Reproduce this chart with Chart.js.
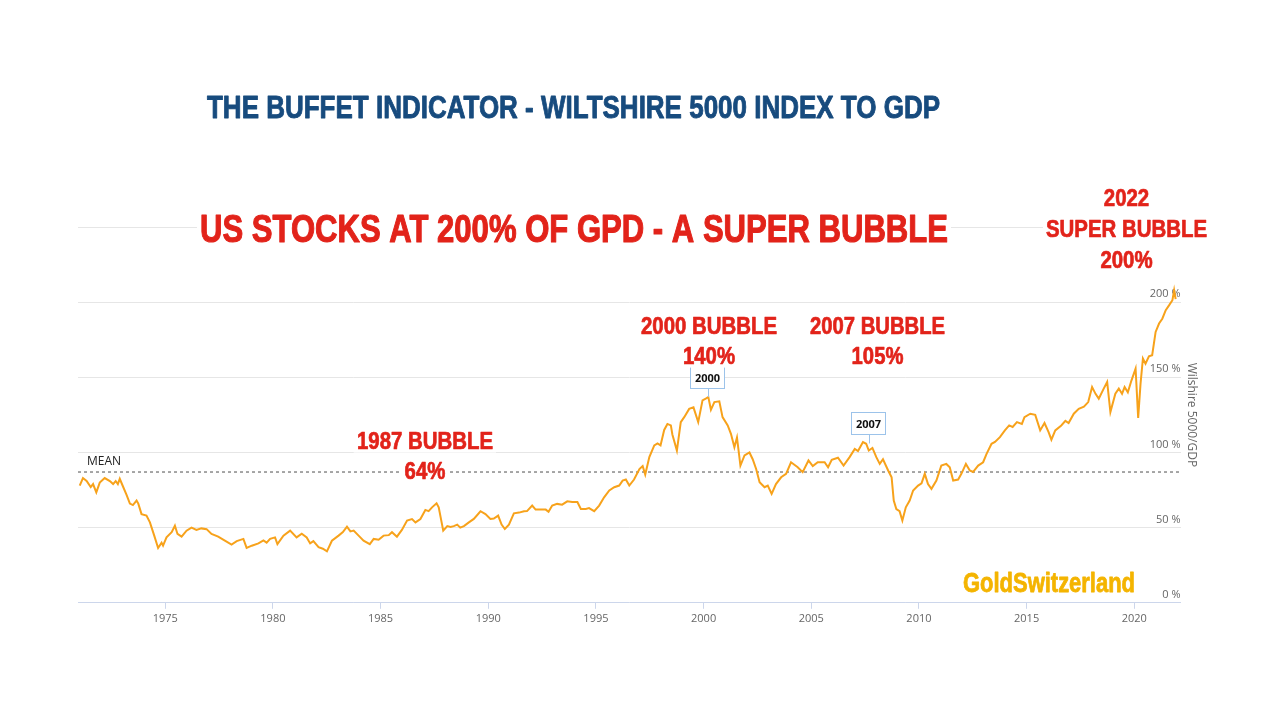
<!DOCTYPE html>
<html>
<head>
<meta charset="utf-8">
<title>The Buffett Indicator</title>
<script src="https://cdn.jsdelivr.net/npm/chart.js@4.4.0/dist/chart.umd.min.js"></script>
<style>
  html, body { margin: 0; padding: 0; background: #fff; }
  #wrap { width: 1280px; height: 720px; position: relative; }
</style>
</head>
<body>
<div id="wrap"><canvas id="chartBuffett"></canvas></div>
<script>
// Wilshire 5000 / GDP (%)
const years = [
  1971.03, 1971.18, 1971.35, 1971.54, 1971.65, 1971.8, 1971.96, 1972.19, 1972.43, 1972.58, 1972.7, 1972.8, 1972.89,
  1973.0, 1973.2, 1973.36, 1973.5, 1973.67, 1973.75, 1973.9, 1974.13, 1974.29, 1974.49, 1974.67, 1974.83, 1974.9,
  1975.06, 1975.3, 1975.45, 1975.57, 1975.76, 1975.99, 1976.22, 1976.45, 1976.68, 1976.92, 1977.15, 1977.46, 1977.77,
  1978.08, 1978.32, 1978.63, 1978.78, 1979.02, 1979.33, 1979.56, 1979.71, 1979.87, 1980.1, 1980.21, 1980.49, 1980.8,
  1981.1, 1981.34, 1981.57, 1981.73, 1981.88, 1982.12, 1982.32, 1982.51, 1982.74, 1983.05, 1983.25, 1983.44, 1983.6,
  1983.75, 1983.98, 1984.21, 1984.5, 1984.68, 1984.91, 1985.14, 1985.38, 1985.53, 1985.76, 1985.99, 1986.23, 1986.46,
  1986.62, 1986.85, 1987.08, 1987.23, 1987.39, 1987.6, 1987.7, 1987.91, 1988.1, 1988.25, 1988.4, 1988.56, 1988.7,
  1988.87, 1989.1, 1989.33, 1989.64, 1989.87, 1990.1, 1990.26, 1990.46, 1990.62, 1990.77, 1990.96, 1991.19, 1991.43,
  1991.66, 1991.8, 1992.04, 1992.2, 1992.43, 1992.67, 1992.8, 1992.97, 1993.2, 1993.43, 1993.67, 1993.9, 1994.14,
  1994.3, 1994.53, 1994.68, 1994.92, 1995.15, 1995.38, 1995.62, 1995.85, 1996.08, 1996.24, 1996.39, 1996.55, 1996.77,
  1997.02, 1997.17, 1997.29, 1997.48, 1997.71, 1997.86, 1998.0, 1998.17, 1998.32, 1998.48, 1998.55, 1998.76, 1998.94,
  1999.1, 1999.33, 1999.53, 1999.75, 1999.95, 2000.1, 2000.22, 2000.34, 2000.5, 2000.73, 2000.88, 2001.12, 2001.27,
  2001.43, 2001.55, 2001.71, 2001.9, 2002.13, 2002.28, 2002.44, 2002.6, 2002.83, 2002.98, 2003.16, 2003.36, 2003.6,
  2003.83, 2004.06, 2004.37, 2004.6, 2004.87, 2005.07, 2005.3, 2005.62, 2005.78, 2005.95, 2006.24, 2006.5, 2006.78,
  2007.02, 2007.17, 2007.4, 2007.55, 2007.67, 2007.84, 2008.02, 2008.18, 2008.33, 2008.57, 2008.73, 2008.83, 2008.95,
  2009.1, 2009.23, 2009.39, 2009.57, 2009.73, 2009.96, 2010.12, 2010.27, 2010.42, 2010.58, 2010.81, 2011.04, 2011.27,
  2011.43, 2011.59, 2011.82, 2011.97, 2012.18, 2012.36, 2012.51, 2012.75, 2012.98, 2013.14, 2013.37, 2013.53, 2013.76,
  2013.99, 2014.19, 2014.35, 2014.55, 2014.78, 2014.9, 2015.17, 2015.4, 2015.63, 2015.83, 2016.02, 2016.15, 2016.33,
  2016.61, 2016.8, 2016.95, 2017.19, 2017.42, 2017.66, 2017.86, 2018.04, 2018.2, 2018.35, 2018.58, 2018.74, 2018.89,
  2019.12, 2019.28, 2019.43, 2019.55, 2019.7, 2019.87, 2020.06, 2020.18, 2020.29, 2020.4, 2020.52, 2020.68, 2020.83,
  2020.99, 2021.15, 2021.3, 2021.46, 2021.62, 2021.77, 2021.85, 2021.92
];
const ratio = [
  78, 83, 81, 77, 79, 73.5, 80, 83, 81, 79, 81, 79, 82.5,
  78.7, 72, 66, 65, 68, 66, 59, 58, 53.5, 44.7, 36.5, 40, 38,
  43.5, 47, 51.3, 45.8, 44, 48, 50, 48.5, 49.5, 49, 45.8, 44, 41.3,
  38.7, 41, 42.5, 36.5, 38, 39.5, 41.5, 40, 42.5, 43.5, 39, 44.7, 48,
  43.5, 46, 43.5, 39.5, 41, 37, 36, 34.2, 41.3, 44.7, 47, 50.7, 47.5,
  48, 44.7, 41.3, 39, 42.5, 42, 44.7, 45, 47, 44, 48.5, 54.7, 55.7,
  53.5, 55.7, 61.8, 61, 63.5, 66.2, 63.5, 48, 51, 50.5, 51, 52, 50,
  51, 53.5, 55.8, 60.9, 59, 55.8, 56, 58, 52, 49.1, 52, 59.5, 60,
  60.9, 61, 64.7, 62, 62, 62, 60.5, 64.7, 65.8, 65.3, 67.5, 67, 67,
  62.4, 62.4, 63, 61, 64.7, 70.2, 74.7, 76.9, 78, 81.3, 82, 78, 82,
  89, 91, 85.3, 96.9, 104.7, 106, 104.7, 115, 119, 118, 112, 101.3, 120.2,
  123.5, 129, 130, 120.2, 134.7, 135.8, 136.9, 128.4, 133.5, 134, 123.5, 118, 112.4,
  103.5, 110, 91.3, 98, 100, 95.5, 89, 80.2, 76.9, 78, 72.5, 79, 83.5,
  85.8, 93.5, 90.2, 86.9, 94.7, 90.9, 93.5, 93.5, 90.2, 95.1, 96.5, 91.3, 96.9,
  102.4, 101, 106.9, 105.8, 101.3, 103, 96.9, 92.4, 95.5, 88, 83.5, 68, 62.4,
  61, 54.7, 63.5, 68, 74.7, 78, 79.5, 85.8, 79, 75.8, 81.3, 91.3, 92.4,
  90.2, 81.3, 82, 85.8, 92.4, 88, 87, 91.3, 93.5, 99.1, 105.8, 107, 110.2,
  114.7, 118, 117, 120.2, 119, 123.5, 125.8, 125, 114.7, 119.6, 113.5, 108.5, 114.7,
  118, 121, 119.6, 125.8, 129, 130.5, 133.5, 143.5, 139, 135.8, 142.5, 146.9, 126.9,
  139.1, 142.5, 139, 143.5, 140, 148, 155.8, 123, 145.8, 162.5, 159, 164, 164.7,
  180.2, 185.8, 189, 194.7, 198, 201.3, 208, 202
];
const meanValue = 87;

const xMin = 1970.95;
const xMax = 2022.15;
const xTickYears = [1975, 1980, 1985, 1990, 1995, 2000, 2005, 2010, 2015, 2020];
const yMax = 250;
const yTickValues = [0, 50, 100, 150, 200, 250];

const flagLabels = ['2000', '2007'];
const flagYears = [2000.22, 2007.7];
const flagValues = [136.9, 106];

// Blocos de texto (posição em px do canvas)
const blocos = [
  { lines: ['THE BUFFET INDICATOR - WILTSHIRE 5000 INDEX TO GDP'], cx: 573.5, cy: 107, gap: 0, size: 31, width: 733, color: '#174b7e', stroke: 0.9 },
  { lines: ['US STOCKS AT 200% OF GPD - A SUPER BUBBLE'], cx: 574, cy: 228, gap: 0, size: 39, width: 748, color: '#e2231a', bg: true, stroke: 1.1 },
  { lines: ['2022', 'SUPER BUBBLE', '200%'], cx: 1126.5, cy: 197, gap: 31, size: 24, width: 161, color: '#e2231a', bg: true, stroke: 0.7 },
  { lines: ['2000 BUBBLE', '140%'], cx: 709, cy: 325, gap: 30, size: 24, width: 136, color: '#e2231a', bg: true, stroke: 0.7 },
  { lines: ['2007 BUBBLE', '105%'], cx: 877.5, cy: 325, gap: 30, size: 24, width: 135, color: '#e2231a', bg: true, stroke: 0.7 },
  { lines: ['1987 BUBBLE', '64%'], cx: 425, cy: 440, gap: 30, size: 24, width: 136, color: '#e2231a', bg: true, stroke: 0.7 },
  { lines: ['GoldSwitzerland'], cx: 1049, cy: 582, gap: 0, size: 27, width: 172, color: '#f4b400', stroke: 0.8 }
];

function drawBlock(ctx, b) {
  ctx.save();
  ctx.font = 'bold ' + b.size + 'px "Liberation Sans", Arial, sans-serif';
  const widest = Math.max(...b.lines.map(t => ctx.measureText(t).width));
  const sx = b.width / widest;
  const cap = b.size * 0.716;
  b.lines.forEach((t, i) => {
    const w = ctx.measureText(t).width * sx;
    const cy = b.cy + i * b.gap;
    if (b.bg) {
      ctx.fillStyle = '#fff';
      ctx.fillRect(b.cx - w / 2 - 3, cy - cap / 2 - 4, w + 6, cap + 8);
    }
    ctx.save();
    ctx.translate(b.cx, cy + cap / 2);
    ctx.scale(sx, 1);
    ctx.fillStyle = b.color;
    ctx.strokeStyle = b.color;
    ctx.lineWidth = b.stroke || 0;
    ctx.lineJoin = 'round';
    ctx.textAlign = 'center';
    ctx.textBaseline = 'alphabetic';
    ctx.fillText(t, 0, 0);
    if (b.stroke) ctx.strokeText(t, 0, 0);
    ctx.restore();
  });
  ctx.restore();
}

const textosPlugin = {
  id: 'textos',
  afterDraw(chart) {
    const ctx = chart.ctx;
    const xs = chart.scales.x;
    const ys = chart.scales.y;

    // rótulo MEAN
    ctx.save();
    ctx.font = '12px "Open Sans", sans-serif';
    ctx.fillStyle = '#222';
    ctx.textAlign = 'left';
    ctx.textBaseline = 'middle';
    ctx.fillText('MEAN', chart.chartArea.left + 9, ys.getPixelForValue(meanValue) - 10);
    ctx.restore();

    // bandeiras 2000 / 2007
    flagLabels.forEach((lab, i) => {
      const px = xs.getPixelForValue(flagYears[i]);
      const py = ys.getPixelForValue(flagValues[i]);
      const w = 34, h = 22;
      const bx = Math.round(px - w / 2 - 1) + 0.5;
      const by = Math.round(py - 9 - h) + 0.5;
      ctx.save();
      ctx.strokeStyle = '#9cc3ea';
      ctx.lineWidth = 1;
      ctx.beginPath();
      ctx.moveTo(Math.round(px) + 0.5, by + h);
      ctx.lineTo(Math.round(px) + 0.5, py);
      ctx.stroke();
      ctx.fillStyle = '#fff';
      ctx.fillRect(bx, by, w, h);
      ctx.strokeRect(bx, by, w, h);
      ctx.font = 'bold 11px "Open Sans", sans-serif';
      ctx.fillStyle = '#111';
      ctx.textAlign = 'center';
      ctx.textBaseline = 'middle';
      ctx.fillText(lab, bx + w / 2, by + h / 2 + 1);
      ctx.restore();
    });

    blocos.forEach(b => drawBlock(ctx, b));
  }
};

const ctx = document.getElementById('chartBuffett').getContext('2d');

new Chart(ctx, {
  type: 'line',
  data: {
    datasets: [
      {
        label: 'Wilshire 5000/GDP',
        data: years.map((x, i) => ({ x: x, y: ratio[i] })),
        borderColor: '#f7a21b',
        borderWidth: 2,
        pointRadius: 0,
        tension: 0,
        fill: false
      },
      {
        label: 'Mean',
        data: [{ x: xMin, y: meanValue }, { x: xMax, y: meanValue }],
        borderColor: '#8a8a8a',
        borderWidth: 1.5,
        borderDash: [3, 3],
        pointRadius: 0,
        fill: false
      }
    ]
  },
  options: {
    responsive: true,
    maintainAspectRatio: false,
    animation: false,
    layout: { padding: { top: 227, left: 78, right: 77, bottom: 92 } },
    plugins: {
      legend: { display: false },
      tooltip: { enabled: false }
    },
    scales: {
      x: {
        type: 'linear',
        min: xMin,
        max: xMax,
        afterBuildTicks: axis => { axis.ticks = xTickYears.map(v => ({ value: v })); },
        grid: { display: true, drawOnChartArea: false, drawTicks: true, tickLength: 6, color: '#ccd6eb' },
        border: { display: true, color: '#ccd6eb', width: 1 },
        ticks: {
          color: '#666',
          font: { family: '"Open Sans", sans-serif', size: 11 },
          padding: 3,
          maxRotation: 0,
          callback: v => String(v)
        }
      },
      y: {
        position: 'right',
        min: 0,
        max: yMax,
        afterBuildTicks: axis => { axis.ticks = yTickValues.map(v => ({ value: v })); },
        grid: { color: '#e6e6e6', lineWidth: 1, drawTicks: false },
        border: { display: false },
        ticks: {
          mirror: true,
          padding: 0,
          labelOffset: -8,
          color: '#666',
          font: { family: '"Open Sans", sans-serif', size: 11 },
          callback: v => (v === yMax ? '' : v + ' %')
        },
        title: {
          display: true,
          text: 'Wilshire 5000/GDP',
          color: '#666',
          font: { family: '"Open Sans", sans-serif', size: 12 },
          padding: { top: 4, bottom: 4 }
        }
      }
    }
  },
  plugins: [textosPlugin]
});
</script>
</body>
</html>
